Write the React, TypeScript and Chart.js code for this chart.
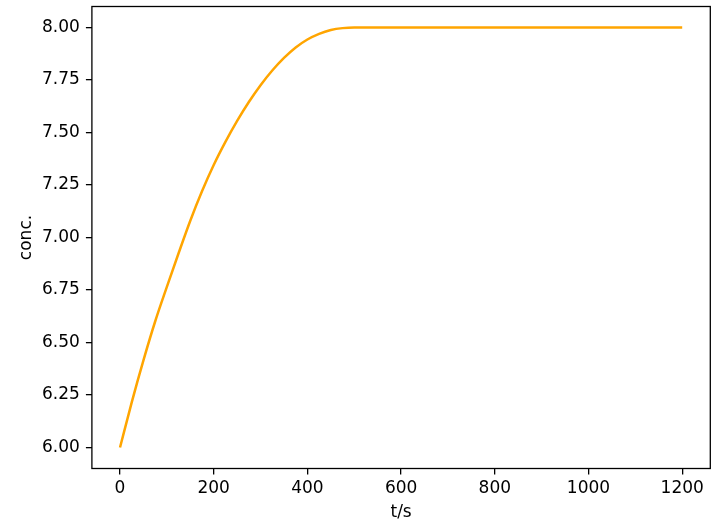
import React, { useEffect, useRef } from "react";
import { Chart, registerables } from "chart.js";

Chart.register(...registerables);

const timeS = [0, 25, 50, 75, 100, 125, 150, 175, 200, 225, 250, 275, 300, 325, 350, 375, 400, 425, 450, 475, 500, 550, 600, 700, 800, 900, 1000, 1100, 1200];
const conc = [6.0, 6.215, 6.415, 6.6, 6.765, 6.925, 7.08, 7.22, 7.345, 7.455, 7.555, 7.645, 7.725, 7.795, 7.855, 7.905, 7.943, 7.97, 7.988, 7.997, 8.0, 8.0, 8.0, 8.0, 8.0, 8.0, 8.0, 8.0, 8.0];
const xTicks = [0, 200, 400, 600, 800, 1000, 1200];
const yTicks = [6.0, 6.25, 6.5, 6.75, 7.0, 7.25, 7.5, 7.75, 8.0];

const FONT = "'DejaVu Sans', sans-serif";
const FS = 17;

export default function App() {
  const ref = useRef<HTMLCanvasElement | null>(null);
  useEffect(() => {
    document.body.style.margin = "0";
    const frame = {
      id: "frame",
      afterDatasetsDraw(chart: any) {
        const { ctx, chartArea: a } = chart;
        ctx.save();
        ctx.strokeStyle = "#000";
        ctx.lineWidth = 1.3;
        ctx.strokeRect(a.left, a.top, a.right - a.left, a.bottom - a.top);
        ctx.restore();
      },
    };
    const chart = new Chart(ref.current!, {
      type: "line",
      data: {
        datasets: [
          {
            data: timeS.map((t, i) => ({ x: t, y: conc[i] })),
            borderColor: "#FFA500",
            borderWidth: 2.5,
            pointRadius: 0,
            cubicInterpolationMode: "monotone",
            fill: false,
          },
        ],
      },
      options: {
        animation: false,
        responsive: false,
        devicePixelRatio: 1,
        layout: { padding: { left: 0, top: 6.5, right: 5.7, bottom: 0 } },
        plugins: { legend: { display: false }, tooltip: { enabled: false } },
        scales: {
          x: {
            type: "linear",
            min: -60,
            max: 1260,
            afterBuildTicks: (s: any) => {
              s.ticks = xTicks.map((v) => ({ value: v }));
            },
            afterFit: (s: any) => {
              s.height = 54.5;
              s.paddingLeft = 0;
              s.paddingRight = 0;
            },
            grid: { display: true, drawOnChartArea: false, drawTicks: true, tickLength: 6, color: "#000", lineWidth: 1.3 },
            border: { display: false },
            ticks: { color: "#000", font: { family: FONT, size: FS }, padding: 4, maxRotation: 0, autoSkip: false, callback: (v: any) => String(v) },
            title: { display: true, text: "t/s", color: "#000", font: { family: FONT, size: FS }, padding: { top: 0, bottom: 0 } },
          },
          y: {
            type: "linear",
            min: 5.9,
            max: 8.1,
            afterBuildTicks: (s: any) => {
              s.ticks = yTicks.map((v) => ({ value: v }));
            },
            afterFit: (s: any) => {
              s.width = 91.9;
              s.paddingTop = 0;
              s.paddingBottom = 0;
            },
            grid: { display: true, drawOnChartArea: false, drawTicks: true, tickLength: 6, color: "#000", lineWidth: 1.3 },
            border: { display: false },
            ticks: { color: "#000", font: { family: FONT, size: FS }, padding: 6, autoSkip: false, callback: (v: any) => Number(v).toFixed(2) },
            title: { display: true, text: "conc.", color: "#000", font: { family: FONT, size: FS }, padding: { top: 16, bottom: 0 } },
          },
        },
      },
      plugins: [frame],
    } as any);
    return () => chart.destroy();
  }, []);
  return (
    <div style={{ position: "fixed", left: 0, top: 0, width: 716, height: 523, background: "#fff" }}>
      <canvas ref={ref} width={716} height={523} style={{ display: "block" }} />
    </div>
  );
}
